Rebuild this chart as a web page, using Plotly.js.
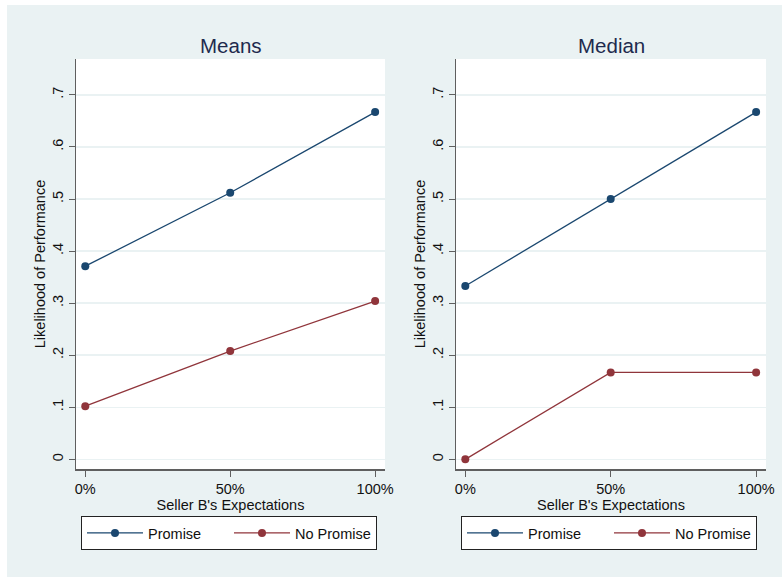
<!DOCTYPE html>
<html>
<head>
<meta charset="utf-8">
<script src="https://cdn.plot.ly/plotly-3.0.1.min.js"></script>
<style>
  html, body { margin: 0; padding: 0; background: #ffffff; }
  #chart { position: absolute; left: 7px; top: 5px; width: 775px; height: 572px; }
</style>
</head>
<body>
<div id="chart"></div>
<script>
// ---- data ----
const expectations = [0, 50, 100];
const xTickText = ["0%", "50%", "100%"];
const yTickVals = [0, 0.1, 0.2, 0.3, 0.4, 0.5, 0.6, 0.7];
const yTickText = ["0", ".1", ".2", ".3", ".4", ".5", ".6", ".7"];

const meansPromise = [0.371, 0.512, 0.667];
const meansNoPromise = [0.102, 0.208, 0.304];
const medianPromise = [0.333, 0.5, 0.667];
const medianNoPromise = [0.0, 0.167, 0.167];

const panelTitles = ["Means", "Median"];
const seriesNames = ["Promise", "No Promise"];
const xTitle = "Seller B's Expectations";
const yTitle = "Likelihood of Performance";

// ---- styles ----
const navy = "#1a476f";
const maroon = "#90353b";
const bg = "#eaf2f3";
const axisCol = "#5f5f5f";
const FONT = "Liberation Sans, Arial, sans-serif";
const W = 775, H = 572;

function trace(y, name, color, xa, ya, legend) {
  return {
    x: expectations, y: y, name: name, type: "scatter", mode: "lines+markers",
    line: { color: color, width: 1.3 },
    marker: { color: color, size: 8 },
    xaxis: xa, yaxis: ya, legend: legend, showlegend: true
  };
}

const data = [
  trace(meansPromise, seriesNames[0], navy, "x", "y", "legend"),
  trace(meansNoPromise, seriesNames[1], maroon, "x", "y", "legend"),
  trace(medianPromise, seriesNames[0], navy, "x2", "y2", "legend2"),
  trace(medianNoPromise, seriesNames[1], maroon, "x2", "y2", "legend2")
];

const yDom = [1 - 464 / H, 1 - 54 / H];

function xaxis(domain, anchor) {
  return {
    domain: domain, anchor: anchor, range: [-3.2, 103.4],
    tickvals: expectations, ticktext: xTickText,
    showline: true, linecolor: axisCol, linewidth: 1.5,
    ticks: "outside", ticklen: 6, tickcolor: axisCol, tickwidth: 1,
    showgrid: false, zeroline: false,
    tickfont: { family: FONT, size: 14.5, color: "#111" },
    title: { text: xTitle, font: { family: FONT, size: 14.5, color: "#111" }, standoff: 0 }
  };
}
function yaxis(anchor) {
  return {
    domain: yDom, anchor: anchor, range: [-0.0186, 0.769],
    tickvals: yTickVals, ticktext: yTickText, tickangle: -90,
    showline: true, linecolor: axisCol, linewidth: 1.5,
    ticks: "outside", ticklen: 6, tickcolor: axisCol, tickwidth: 1,
    showgrid: true, gridcolor: bg, gridwidth: 1.5, zeroline: false,
    tickfont: { family: FONT, size: 14.5, color: "#111" },
    title: { text: yTitle, font: { family: FONT, size: 14.5, color: "#111" }, standoff: 0 }
  };
}

function legend(xpx) {
  return {
    orientation: "h", x: (xpx - 7) / W, xanchor: "left",
    y: 1 - (516 - 5) / H, yanchor: "top",
    bgcolor: "#ffffff", bordercolor: "#222", borderwidth: 1,
    font: { family: FONT, size: 14.5, color: "#111" },
    itemwidth: 56, entrywidth: 76, traceorder: "normal",
    itemclick: false, itemdoubleclick: false
  };
}

const layout = {
  width: W, height: H,
  margin: { l: 0, r: 0, t: 0, b: 0, autoexpand: false },
  paper_bgcolor: bg, plot_bgcolor: "#ffffff",
  font: { family: FONT },
  xaxis: xaxis([(76 - 7) / W, (385 - 7) / W], "y"),
  yaxis: yaxis("x"),
  xaxis2: xaxis([(456 - 7) / W, (766 - 7) / W], "y2"),
  yaxis2: yaxis("x2"),
  legend: legend(81),
  legend2: legend(461),
  annotations: [
    { text: panelTitles[0], xref: "x domain", yref: "paper", x: 0.5, y: 1 - (46 - 5) / H,
      xanchor: "center", yanchor: "middle", showarrow: false,
      font: { family: FONT, size: 20.5, color: "#1e2a4e" } },
    { text: panelTitles[1], xref: "x2 domain", yref: "paper", x: 0.5, y: 1 - (46 - 5) / H,
      xanchor: "center", yanchor: "middle", showarrow: false,
      font: { family: FONT, size: 20.5, color: "#1e2a4e" } }
  ]
};

Plotly.newPlot("chart", data, layout, { displayModeBar: false, staticPlot: true });
</script>
</body>
</html>
